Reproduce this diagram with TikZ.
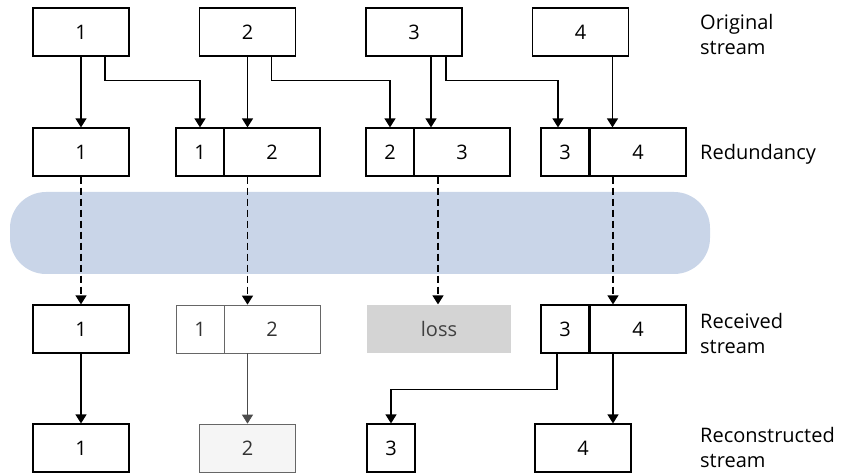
\documentclass[tikz,border=0pt]{standalone}
\usepackage{fontspec}
\setmainfont{Open Sans}
\usetikzlibrary{arrows.meta, positioning}
\definecolor{netblue}{RGB}{201, 213, 232}
\definecolor{lossgray}{RGB}{212, 212, 212}

\begin{document}
\begin{tikzpicture}[x=1pt, y=-1pt,
  pkt/.style={draw, line width=1.2pt, minimum width=96pt, minimum height=48pt,
              inner sep=0pt, font=\fontsize{20}{24}\selectfont},
  pkthalf/.style={pkt, minimum width=48pt},
  faint/.style={draw=black!60, line width=0.7pt, text=black!80},
  lost/.style={pkt, draw=none, fill=lossgray, minimum width=144pt, text=black!75},
  lab/.style={anchor=west, align=left, inner sep=0pt, font=\fontsize{20}{25}\selectfont},
  arr/.style={-{Triangle[length=9pt, width=11pt]}, line width=1.3pt},
  darr/.style={arr, dash pattern=on 7pt off 4pt},
  faintarr/.style={arr, line width=0.8pt, black!70}
]
  \useasboundingbox (0,0) rectangle (852,473);

  % the network
  \fill[netblue, rounded corners=36pt] (10,192) rectangle (710,274);

  % original stream
  \node[pkt] (o1) at (81,32) {1};
  \node[pkt] (o2) at (247.5,32) {2};
  \node[pkt] (o3) at (414,32) {3};
  \node[pkt] (o4) at (580.5,32) {4};

  % with redundancy
  \node[pkt] (r1) at (81,152) {1};
  \node[pkthalf] (r2a) at (200,152) {1};
  \node[pkt] (r2b) at (272,152) {2};
  \node[pkthalf] (r3a) at (390,152) {2};
  \node[pkt] (r3b) at (462,152) {3};
  \node[pkthalf] (r4a) at (565,152) {3};
  \node[pkt] (r4b) at (638,152) {4};

  % received
  \node[pkt] (v1) at (81,329) {1};
  \node[pkthalf, faint] (v2a) at (200,329) {1};
  \node[pkt, faint] (v2b) at (272,329) {2};
  \node[lost] (v3) at (439,329) {loss};
  \node[pkthalf] (v4a) at (565,329) {3};
  \node[pkt] (v4b) at (638,329) {4};

  % reconstructed
  \node[pkt] (c1) at (81,448) {1};
  \node[pkt, faint, fill=black!4] (c2) at (247.5,448) {2};
  \node[pkthalf] (c3) at (391,448) {3};
  \node[pkt] (c4) at (583,448) {4};

  \node[lab] (lorig) at (700,35) {Original\\stream};
  \node[lab] (lred) at (700,154) {Redundancy};
  \node[lab] (lrecv) at (700,333) {Received\\stream};
  \node[lab] (lrec) at (700,447) {Reconstructed\\stream};

  \draw[arr] (o1) -- (r1);
  \draw[arr] ([xshift=24pt]o1.south) -- ++(0,24) -| (r2a.north);
  \draw[arr] (o2.south) -- ([xshift=-24.5pt]r2b.north);
  \draw[arr] ([xshift=24pt]o2.south) -- ++(0,24) -| (r3a.north);
  \draw[arr] ([xshift=17pt]o3.south) -- ([xshift=-31pt]r3b.north);
  \draw[arr] ([xshift=32pt]o3.south) -- ++(0,24) -| ([xshift=-7pt]r4a.north);
  \draw[arr] ([xshift=32pt]o4.south) -- ([xshift=-25.5pt]r4b.north);

  \draw[darr] (r1) -- (v1);
  \draw[darr] ([xshift=-24.5pt]r2b.south) -- ([xshift=-24.5pt]v2b.north);
  \draw[darr] ([xshift=-24pt]r3b.south) -- ([xshift=-1pt]v3.north);
  \draw[darr] ([xshift=-25pt]r4b.south) -- ([xshift=-25pt]v4b.north);

  \draw[arr] (v1) -- (c1);
  \draw[faintarr] ([xshift=-24.5pt]v2b.south) -- (c2.north);
  \draw[arr] ([xshift=-8pt]v4a.south) -- ++(0,36) -| (c3.north);
  \draw[arr] ([xshift=-25pt]v4b.south) -- ([xshift=30pt]c4.north);
\end{tikzpicture}
\end{document}
